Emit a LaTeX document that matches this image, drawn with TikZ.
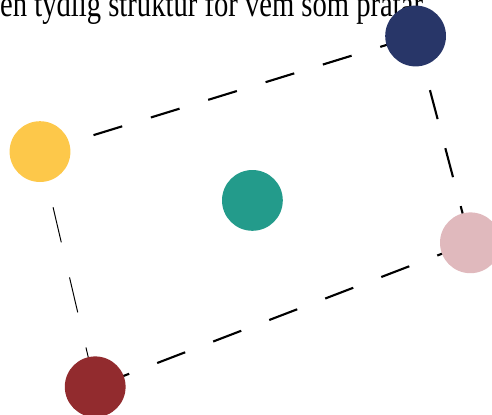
\documentclass[tikz,border=0pt]{standalone}
\usepackage{fontspec}
\setmainfont{Liberation Serif}
\usetikzlibrary{backgrounds}

\definecolor{speakerNavy}{HTML}{283668}
\definecolor{speakerYellow}{HTML}{FDC84A}
\definecolor{speakerTeal}{HTML}{239B8B}
\definecolor{speakerPink}{HTML}{E0B9BD}
\definecolor{speakerWine}{HTML}{922B2E}

\begin{document}
\begin{tikzpicture}[
	person/.style = {circle, minimum size = 1.52 cm, inner sep = 0},
	link/.style = {line width = 1.5 pt, dash pattern = on 0.75 cm off 0.75 cm},
	thinlink/.style = {line width = 0.7 pt, dash pattern = on 0.9 cm off 0.9 cm}]
	\useasboundingbox (0, 0) rectangle (12.3, 10.35);
	\clip (0, 0) rectangle (12.3, 10.35);
	
	\node[anchor = base west, inner sep = 0, xscale = 0.774, transform shape, font = \fontsize{26.3}{30}\selectfont] (caption) at (0, 9.94) {en tydlig struktur för vem som pratar};
	
	\node[person, fill = speakerNavy] (navy) at (10.39, 9.45) {};
	\node[person, fill = speakerYellow] (yellow) at (1.0, 6.56) {};
	\node[person, fill = speakerTeal] (teal) at (6.31, 5.34) {};
	\node[person, fill = speakerPink] (pink) at (11.76, 4.28) {};
	\node[person, fill = speakerWine] (wine) at (2.38, 0.68) {};
	
	\begin{scope}[on background layer]
	\draw[link, dash phase = 0.1 cm] (yellow.center) -- (navy.center);
	\draw[link, dash phase = 0.1 cm] (navy.center) -- (pink.center);
	\draw[link, dash phase = 1.34 cm] (wine.center) -- (pink.center);
	\draw[thinlink, dash phase = 0.37 cm] (yellow.center) -- (wine.center);
	\end{scope}
\end{tikzpicture}
\end{document}
